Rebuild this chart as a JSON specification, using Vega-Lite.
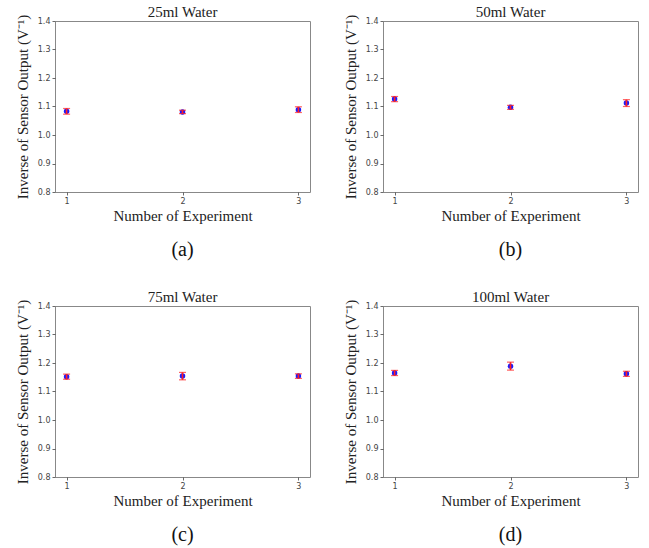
{
  "$schema": "https://vega.github.io/schema/vega-lite/v6.json",
  "padding": {"left": 14, "top": 4, "right": 5, "bottom": 0},
  "background": "white",
  "config": {
    "view": {"stroke": "#888888", "strokeWidth": 1},
    "concat": {"spacing": {"row": 28, "column": 31}},
    "title": {"font": "Liberation Serif", "fontSize": 15, "fontWeight": "normal", "color": "#222222", "offset": -6, "frame": "group"},
    "axis": {
      "grid": false, "domain": false,
      "tickColor": "#444444", "tickSize": 3, "tickWidth": 0.8,
      "labelFont": "DejaVu Sans", "labelFontSize": 8, "labelColor": "#444444", "labelPadding": 2,
      "titleFont": "Liberation Serif", "titleFontSize": 15, "titleFontWeight": "normal", "titleColor": "#222222"
    }
  },
  "datasets": {
    "pts": [
      {"panel": "a", "exp": 1, "val": 1.083, "err": 0.010},
      {"panel": "a", "exp": 2, "val": 1.081, "err": 0.006},
      {"panel": "a", "exp": 3, "val": 1.089, "err": 0.010},
      {"panel": "b", "exp": 1, "val": 1.126, "err": 0.009},
      {"panel": "b", "exp": 2, "val": 1.097, "err": 0.007},
      {"panel": "b", "exp": 3, "val": 1.112, "err": 0.012},
      {"panel": "c", "exp": 1, "val": 1.152, "err": 0.009},
      {"panel": "c", "exp": 2, "val": 1.154, "err": 0.013},
      {"panel": "c", "exp": 3, "val": 1.154, "err": 0.008},
      {"panel": "d", "exp": 1, "val": 1.165, "err": 0.009},
      {"panel": "d", "exp": 2, "val": 1.189, "err": 0.014},
      {"panel": "d", "exp": 3, "val": 1.162, "err": 0.009}
    ],
    "caps": [
      {"panel": "a", "c": "(a)"},
      {"panel": "b", "c": "(b)"},
      {"panel": "c", "c": "(c)"},
      {"panel": "d", "c": "(d)"}
    ]
  },
  "columns": 2,
  "concat": [
    {
      "spacing": 15,
      "vconcat": [
        {
          "title": "25ml Water",
          "width": 255, "height": 171,
          "data": {"name": "pts"},
          "transform": [{"filter": "datum.panel === 'a'"}, {"calculate": "datum.val - datum.err", "as": "lo"}, {"calculate": "datum.val + datum.err", "as": "hi"}],
          "encoding": {
            "x": {"field": "exp", "type": "quantitative", "scale": {"domain": [0.9, 3.1], "nice": false}, "axis": {"values": [1, 2, 3], "format": "d", "title": "Number of Experiment", "titlePadding": 3}},
            "y": {"field": "val", "type": "quantitative", "scale": {"domain": [0.8, 1.4], "nice": false, "zero": false}, "axis": {"values": [0.8, 0.9, 1.0, 1.1, 1.2, 1.3, 1.4], "format": ".1f", "title": "Inverse of Sensor Output (V⁻¹)", "titlePadding": 7}}
          },
          "layer": [
            {"mark": {"type": "point", "filled": true, "shape": "circle", "size": 30, "color": "#1a1aff", "opacity": 1}},
            {"mark": {"type": "rule", "color": "#ff2020", "strokeWidth": 1.6}, "encoding": {"y": {"field": "lo", "type": "quantitative"}, "y2": {"field": "hi"}}},
            {"mark": {"type": "tick", "orient": "horizontal", "color": "#ff2020", "size": 7, "thickness": 1.2}, "encoding": {"y": {"field": "lo", "type": "quantitative"}}},
            {"mark": {"type": "tick", "orient": "horizontal", "color": "#ff2020", "size": 7, "thickness": 1.2}, "encoding": {"y": {"field": "hi", "type": "quantitative"}}}
          ]
        },
        {
          "width": 255, "height": 22,
          "view": {"stroke": null},
          "data": {"name": "caps"},
          "transform": [{"filter": "datum.panel === 'a'"}],
          "mark": {"type": "text", "font": "Liberation Serif", "fontSize": 20, "color": "#111111"},
          "encoding": {"text": {"field": "c"}}
        }
      ]
    },
    {
      "spacing": 15,
      "vconcat": [
        {
          "title": "50ml Water",
          "width": 255, "height": 171,
          "data": {"name": "pts"},
          "transform": [{"filter": "datum.panel === 'b'"}, {"calculate": "datum.val - datum.err", "as": "lo"}, {"calculate": "datum.val + datum.err", "as": "hi"}],
          "encoding": {
            "x": {"field": "exp", "type": "quantitative", "scale": {"domain": [0.9, 3.1], "nice": false}, "axis": {"values": [1, 2, 3], "format": "d", "title": "Number of Experiment", "titlePadding": 3}},
            "y": {"field": "val", "type": "quantitative", "scale": {"domain": [0.8, 1.4], "nice": false, "zero": false}, "axis": {"values": [0.8, 0.9, 1.0, 1.1, 1.2, 1.3, 1.4], "format": ".1f", "title": "Inverse of Sensor Output (V⁻¹)", "titlePadding": 7}}
          },
          "layer": [
            {"mark": {"type": "point", "filled": true, "shape": "circle", "size": 30, "color": "#1a1aff", "opacity": 1}},
            {"mark": {"type": "rule", "color": "#ff2020", "strokeWidth": 1.6}, "encoding": {"y": {"field": "lo", "type": "quantitative"}, "y2": {"field": "hi"}}},
            {"mark": {"type": "tick", "orient": "horizontal", "color": "#ff2020", "size": 7, "thickness": 1.2}, "encoding": {"y": {"field": "lo", "type": "quantitative"}}},
            {"mark": {"type": "tick", "orient": "horizontal", "color": "#ff2020", "size": 7, "thickness": 1.2}, "encoding": {"y": {"field": "hi", "type": "quantitative"}}}
          ]
        },
        {
          "width": 255, "height": 22,
          "view": {"stroke": null},
          "data": {"name": "caps"},
          "transform": [{"filter": "datum.panel === 'b'"}],
          "mark": {"type": "text", "font": "Liberation Serif", "fontSize": 20, "color": "#111111"},
          "encoding": {"text": {"field": "c"}}
        }
      ]
    },
    {
      "spacing": 15,
      "vconcat": [
        {
          "title": "75ml Water",
          "width": 255, "height": 171,
          "data": {"name": "pts"},
          "transform": [{"filter": "datum.panel === 'c'"}, {"calculate": "datum.val - datum.err", "as": "lo"}, {"calculate": "datum.val + datum.err", "as": "hi"}],
          "encoding": {
            "x": {"field": "exp", "type": "quantitative", "scale": {"domain": [0.9, 3.1], "nice": false}, "axis": {"values": [1, 2, 3], "format": "d", "title": "Number of Experiment", "titlePadding": 3}},
            "y": {"field": "val", "type": "quantitative", "scale": {"domain": [0.8, 1.4], "nice": false, "zero": false}, "axis": {"values": [0.8, 0.9, 1.0, 1.1, 1.2, 1.3, 1.4], "format": ".1f", "title": "Inverse of Sensor Output (V⁻¹)", "titlePadding": 7}}
          },
          "layer": [
            {"mark": {"type": "point", "filled": true, "shape": "circle", "size": 30, "color": "#1a1aff", "opacity": 1}},
            {"mark": {"type": "rule", "color": "#ff2020", "strokeWidth": 1.6}, "encoding": {"y": {"field": "lo", "type": "quantitative"}, "y2": {"field": "hi"}}},
            {"mark": {"type": "tick", "orient": "horizontal", "color": "#ff2020", "size": 7, "thickness": 1.2}, "encoding": {"y": {"field": "lo", "type": "quantitative"}}},
            {"mark": {"type": "tick", "orient": "horizontal", "color": "#ff2020", "size": 7, "thickness": 1.2}, "encoding": {"y": {"field": "hi", "type": "quantitative"}}}
          ]
        },
        {
          "width": 255, "height": 22,
          "view": {"stroke": null},
          "data": {"name": "caps"},
          "transform": [{"filter": "datum.panel === 'c'"}],
          "mark": {"type": "text", "font": "Liberation Serif", "fontSize": 20, "color": "#111111"},
          "encoding": {"text": {"field": "c"}}
        }
      ]
    },
    {
      "spacing": 15,
      "vconcat": [
        {
          "title": "100ml Water",
          "width": 255, "height": 171,
          "data": {"name": "pts"},
          "transform": [{"filter": "datum.panel === 'd'"}, {"calculate": "datum.val - datum.err", "as": "lo"}, {"calculate": "datum.val + datum.err", "as": "hi"}],
          "encoding": {
            "x": {"field": "exp", "type": "quantitative", "scale": {"domain": [0.9, 3.1], "nice": false}, "axis": {"values": [1, 2, 3], "format": "d", "title": "Number of Experiment", "titlePadding": 3}},
            "y": {"field": "val", "type": "quantitative", "scale": {"domain": [0.8, 1.4], "nice": false, "zero": false}, "axis": {"values": [0.8, 0.9, 1.0, 1.1, 1.2, 1.3, 1.4], "format": ".1f", "title": "Inverse of Sensor Output (V⁻¹)", "titlePadding": 7}}
          },
          "layer": [
            {"mark": {"type": "point", "filled": true, "shape": "circle", "size": 30, "color": "#1a1aff", "opacity": 1}},
            {"mark": {"type": "rule", "color": "#ff2020", "strokeWidth": 1.6}, "encoding": {"y": {"field": "lo", "type": "quantitative"}, "y2": {"field": "hi"}}},
            {"mark": {"type": "tick", "orient": "horizontal", "color": "#ff2020", "size": 7, "thickness": 1.2}, "encoding": {"y": {"field": "lo", "type": "quantitative"}}},
            {"mark": {"type": "tick", "orient": "horizontal", "color": "#ff2020", "size": 7, "thickness": 1.2}, "encoding": {"y": {"field": "hi", "type": "quantitative"}}}
          ]
        },
        {
          "width": 255, "height": 22,
          "view": {"stroke": null},
          "data": {"name": "caps"},
          "transform": [{"filter": "datum.panel === 'd'"}],
          "mark": {"type": "text", "font": "Liberation Serif", "fontSize": 20, "color": "#111111"},
          "encoding": {"text": {"field": "c"}}
        }
      ]
    }
  ]
}
